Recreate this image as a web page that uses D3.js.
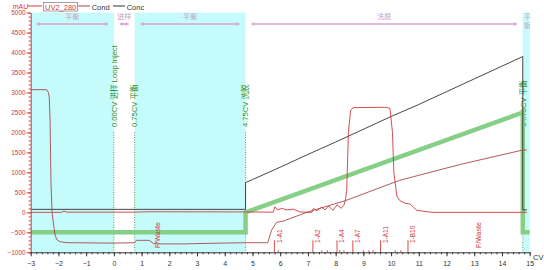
<!DOCTYPE html>
<meta charset="utf-8">
<style>
body { margin: 0; background: #fff; }
svg text { font-family: "Liberation Sans", Arial, "Noto Sans CJK SC", sans-serif; }
</style>
<svg width="544" height="270"></svg>
<script src="https://d3js.org/d3.v7.min.js"></script>
<script>

// run phases (CV)
var phaseNames = ["平衡", "进样", "平衡", "洗脱", "平衡"],
    phaseStart = [-3, 0, 0.75, 4.75, 14.75],
    phaseEnd = [0, 0.75, 4.75, 14.75, 15],
    phaseShaded = [true, false, true, false, true];

// run log events
var eventCV = [0, 0.75, 4.75, 14.75],
    eventText = ["0.00CV 进样 Loop Inject", "0.75CV 平衡", "4.75CV 洗脱", "14.75CV 平衡"];

// UV2_280 (mAU)
var uvCV = [-3, -1.9, -1.8, -1.7, 0.75, 1.3, 4.75, 5.75, 5.81, 5.9, 6.05, 6.24, 6.47, 6.72, 7.14, 7.2, 7.32, 7.5, 7.62, 7.75, 7.9, 8.05, 8.2, 8.3, 8.35, 8.4, 8.46, 8.54, 8.63, 9.84, 9.96, 10.05, 10.1, 10.21, 10.32, 10.5, 10.68, 10.93, 11.5, 14.9],
    uvMAU = [0, 0, 35, 5, 5, 15, 10, 5, 140, 60, 100, 60, 80, 10, 0, 100, 40, 130, 60, 160, 50, 190, 100, 180, 300, 550, 2000, 2550, 2620, 2630, 2600, 2000, 1000, 400, 290, 230, 210, 50, 0, 0];

// Cond
var condCV = [-3, -2.42, -2.36, -2.33, -2.3, -2.27, -2.23, -2.18, -2.12, -2.06, -1.94, -1.7, 0, 0.75, 0.82, 1.27, 1.42, 1.6, 2.5, 3.5, 4.75, 5.55, 5.69, 5.87, 6.11, 7.0, 8.34, 8.88, 10.3, 12.5, 14.75, 14.9],
    condVal = [3070, 3070, 3000, 2880, 2300, 800, 0, -280, -570, -680, -735, -760, -770, -760, -700, -700, -775, -790, -790, -775, -760, -760, -445, -250, -218, 10, 290, 430, 800, 1200, 1560, 1560];

// Conc
var concCV = [-3, 4.75, 4.75, 5, 6, 7, 8, 9, 10, 11, 12, 13, 14, 14.75, 14.75, 14.9],
    concVal = [75, 75, 745, 820, 1130, 1450, 1760, 2080, 2400, 2700, 3020, 3340, 3660, 3900, 60, 60];

// gradient
var gradCV = [-3, 4.75, 4.75, 14.75, 14.75, 15],
    gradVal = [-500, -500, 0, 2500, -500, -500];

// fractions
var fracCV = [1.4, 5.79, 7.18, 8.05, 8.62, 9.62, 10.61, 12.97],
    fracLabel = ["F/Waste", "1-A1", "1-A2", "1-A4", "1-A7", "1-A11", "1-B10", "F/Waste"],
    fracMinorCV = [5.93, 7.5, 7.7, 8.15, 8.3, 9.0, 9.2, 9.35, 10.15, 10.35];

var yTicks = d3.range(-1000, 5001, 500),
    xTicks = d3.range(-3, 16);

var svg = d3.select("svg"),
    margin = {top: 12.6, right: 14.3, bottom: 17.7, left: 30.7},
    width = 544 - margin.left - margin.right,
    height = 270 - margin.top - margin.bottom;

var x = d3.scaleLinear().domain([-3, 15]).range([margin.left, margin.left + width]),
    y = d3.scaleLinear().domain([-1000, 5000]).range([margin.top + height, margin.top]);

var uvColor = "#d23a3a", condColor = "#a8474c", concColor = "#333", gradColor = "#86cf86",
    eventColor = "#2a8d2a", phaseColor = "#bfa3c9", arrowColor = "#d8a6d2";

// shaded phases
phaseNames.forEach(function(name, i) {
  if (!phaseShaded[i]) return;
  svg.append("rect")
      .attr("x", x(phaseStart[i]))
      .attr("y", y(5000))
      .attr("width", x(phaseEnd[i]) - x(phaseStart[i]))
      .attr("height", y(-1000) - y(5000))
      .attr("fill", "#c6fbfb");
});

// phase labels and arrows
phaseNames.forEach(function(name, i) {
  var x0 = x(phaseStart[i]), x1 = x(phaseEnd[i]), cx = (x0 + x1) / 2;
  if (x1 - x0 < 20) {
    name.split("").forEach(function(ch, j) {
      svg.append("text")
          .attr("x", cx + 1).attr("y", 19 + j * 9)
          .attr("text-anchor", "middle")
          .attr("font-size", 6.5)
          .attr("fill", phaseColor)
          .text(ch);
    });
    return;
  }
  svg.append("text")
      .attr("x", cx).attr("y", 19)
      .attr("text-anchor", "middle")
      .attr("font-size", 7)
      .attr("fill", phaseColor)
      .text(name);
  var a0 = x0 + 6, a1 = x1 - 6, ay = 24;
  svg.append("line")
      .attr("x1", a0).attr("x2", a1).attr("y1", ay).attr("y2", ay)
      .attr("stroke", arrowColor).attr("stroke-width", 1.6);
  svg.append("path")
      .attr("d", "M" + a0 + "," + ay + "l3,-2v4z M" + a1 + "," + ay + "l-3,-2v4z")
      .attr("fill", arrowColor);
});

// event markers
eventCV.forEach(function(cv, i) {
  var ex = x(cv);
  svg.append("line")
      .attr("x1", ex).attr("x2", ex)
      .attr("y1", 132).attr("y2", y(-1000))
      .attr("stroke", eventColor)
      .attr("stroke-width", 0.8)
      .attr("stroke-dasharray", "1,1.5");
  svg.append("text")
      .attr("transform", "translate(" + ex + ",127) rotate(-90)")
      .attr("dy", "0.36em")
      .attr("font-size", 7.6)
      .attr("fill", eventColor)
      .text(eventText[i]);
});

var line = d3.line()
    .x(function(d) { return x(d[0]); })
    .y(function(d) { return y(d[1]); });

function series(cvs, vals) {
  return cvs.map(function(cv, i) { return [cv, vals[i]]; });
}

svg.append("path")
    .attr("d", line(series(gradCV, gradVal)))
    .attr("fill", "none")
    .attr("stroke", gradColor)
    .attr("stroke-width", 4.5);

svg.append("path")
    .attr("d", line(series(concCV, concVal)))
    .attr("fill", "none")
    .attr("stroke", concColor)
    .attr("stroke-width", 0.9);

svg.append("path")
    .attr("d", line(series(condCV, condVal)))
    .attr("fill", "none")
    .attr("stroke", condColor)
    .attr("stroke-width", 0.9);

svg.append("path")
    .attr("d", line(series(uvCV, uvMAU)))
    .attr("fill", "none")
    .attr("stroke", uvColor)
    .attr("stroke-width", 0.9);

// fraction marks
fracCV.forEach(function(cv, i) {
  var fx = x(cv), waste = fracLabel[i] === "F/Waste";
  if (!waste) {
    svg.append("line")
        .attr("x1", fx).attr("x2", fx)
        .attr("y1", y(-1000) - 12).attr("y2", y(-1000))
        .attr("stroke", uvColor).attr("stroke-width", 0.9);
  }
  svg.append("text")
      .attr("transform", "translate(" + (fx + 5) + "," + (waste ? 248 : 243) + ") rotate(-90)")
      .attr("dy", "0.36em")
      .attr("font-size", waste ? 7 : 6.5)
      .attr("fill", uvColor)
      .text(fracLabel[i]);
});

fracMinorCV.forEach(function(cv) {
  svg.append("line")
      .attr("x1", x(cv)).attr("x2", x(cv))
      .attr("y1", y(-1000) - 2).attr("y2", y(-1000))
      .attr("stroke", uvColor).attr("stroke-width", 0.9);
});

// axes
var yAxis = svg.append("g")
    .attr("transform", "translate(" + margin.left + ",0)")
    .call(d3.axisLeft(y).tickValues(yTicks).tickFormat(d3.format("d")).tickSize(4).tickSizeOuter(0).tickPadding(1));
yAxis.selectAll("path, line").attr("stroke", uvColor);
yAxis.selectAll("text").attr("fill", uvColor).attr("font-size", 6.5).attr("font-family", "'Liberation Sans Narrow', 'Liberation Sans', sans-serif");

svg.append("g")
    .attr("transform", "translate(" + margin.left + ",0)")
    .call(d3.axisLeft(y).tickValues(d3.range(-1000, 5001, 100)).tickSize(2).tickFormat(""))
    .call(function(g) { g.select(".domain").remove(); })
    .selectAll("line").attr("stroke", uvColor);

var xAxis = svg.append("g")
    .attr("transform", "translate(0," + y(-1000) + ")")
    .call(d3.axisBottom(x).tickValues(xTicks).tickSize(4).tickSizeOuter(0).tickPadding(5));
xAxis.selectAll("path, line").attr("stroke", "#333");
xAxis.selectAll("text").attr("fill", "#333").attr("font-size", 7);

svg.append("g")
    .attr("transform", "translate(0," + y(-1000) + ")")
    .call(d3.axisBottom(x).tickValues(d3.range(-3, 15.01, 0.2)).tickSize(2).tickFormat(""))
    .call(function(g) { g.select(".domain").remove(); })
    .selectAll("line").attr("stroke", "#333");

svg.append("text")
    .attr("x", 533).attr("y", 259.5)
    .attr("font-size", 7.5)
    .attr("fill", "#333")
    .text("CV");

// legend
var legend = svg.append("g").attr("font-size", 7.5);
legend.append("text").attr("x", 12.7).attr("y", 9).attr("fill", uvColor).attr("font-size", 7).text("mAU");
legend.append("line").attr("x1", 28).attr("x2", 42).attr("y1", 6).attr("y2", 6).attr("stroke", uvColor);
legend.append("rect").attr("x", 43.5).attr("y", 2.5).attr("width", 34).attr("height", 8.5)
    .attr("fill", "#fff").attr("stroke", "#888").attr("stroke-width", 0.8);
legend.append("text").attr("x", 45).attr("y", 9.5).attr("fill", uvColor).text("UV2_280");
legend.append("line").attr("x1", 78).attr("x2", 90).attr("y1", 6).attr("y2", 6).attr("stroke", condColor);
legend.append("text").attr("x", 91.7).attr("y", 9.5).attr("fill", "#333").text("Cond");
legend.append("line").attr("x1", 113).attr("x2", 125).attr("y1", 6).attr("y2", 6).attr("stroke", concColor);
legend.append("text").attr("x", 126.7).attr("y", 9.5).attr("fill", "#333").text("Conc");

</script>
